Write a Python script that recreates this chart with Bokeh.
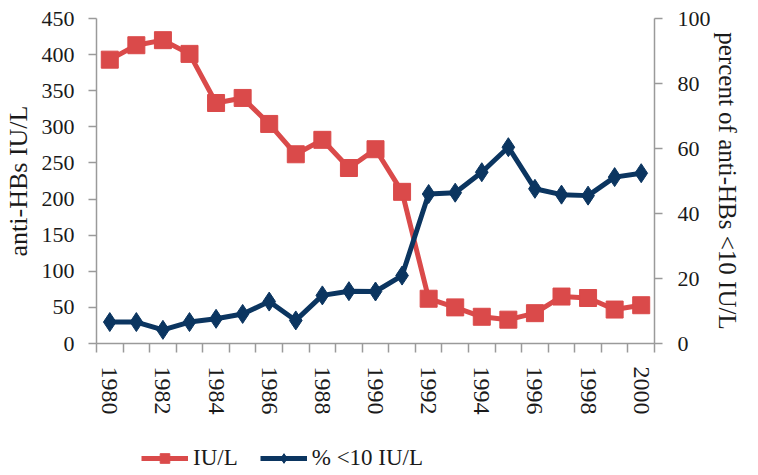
import math
from bokeh.plotting import figure
from bokeh.layouts import column
from bokeh.models import (Range1d, LinearAxis, FixedTicker, Legend, LegendItem,
                          ColumnDataSource)
from bokeh.embed import file_html
from bokeh.resources import INLINE

# ---- data ----
years = list(range(1980, 2001))
iu_per_l = [393, 413, 420, 401, 333, 340, 304, 262, 282, 243, 269,
            210, 62, 50, 37, 33, 42, 65, 63, 47, 53]
pct_below_10 = [6.6, 6.6, 4.2, 6.6, 7.6, 9.1, 12.9, 7.1, 14.8, 16.1, 16.0,
                20.9, 46.0, 46.4, 52.7, 60.4, 47.6, 45.8, 45.5, 51.2, 52.4]
year_labels = [y for y in years if y % 2 == 0]
left_ticks = list(range(0, 451, 50))
right_ticks = list(range(0, 101, 20))
series_names = ["IU/L", "% <10 IU/L"]
left_title = "anti-HBs IU/L"
right_title = "percent of anti-HBs <10 IU/L"

RED = "#DA4A4A"
NAVY = "#0B3560"
AXIS = "#9A9A9A"
FONT = "Liberation Serif"

src = ColumnDataSource(dict(year=years, iu=iu_per_l, pct=pct_below_10))

p = figure(frame_width=558, frame_height=325,
           output_backend="svg", toolbar_location=None,
           x_range=Range1d(years[0] - 0.5, years[-1] + 0.5),
           y_range=Range1d(0, 450),
           min_border_left=89, min_border_right=90, min_border_top=18,
           min_border_bottom=80)
p.extra_y_ranges = {"pct": Range1d(0, 100)}
p.outline_line_color = None
p.xgrid.visible = False
p.ygrid.visible = False
p.background_fill_color = "white"
p.border_fill_color = "white"

# x axis: labels at even-year centres, tick marks between categories
xa = p.xaxis[0]
boundaries = [y - 0.5 for y in years] + [years[-1] + 0.5]
xa.ticker = FixedTicker(ticks=year_labels, minor_ticks=boundaries)
xa.major_tick_out = 0
xa.major_tick_in = 0
xa.minor_tick_out = 9
xa.minor_tick_in = 0
xa.minor_tick_line_color = AXIS
xa.minor_tick_line_width = 1.5
xa.axis_line_color = AXIS
xa.axis_line_width = 1.5
xa.major_label_orientation = "vertical"
xa.major_label_standoff = 14
xa.major_label_text_font = FONT
xa.major_label_text_font_size = "24px"
xa.major_label_text_color = "#1a1a1a"

# left axis
ya = p.yaxis[0]
ya.ticker = FixedTicker(ticks=left_ticks)
ya.major_tick_out = 8
ya.major_tick_in = 0
ya.minor_tick_out = 0
ya.minor_tick_in = 0
ya.major_tick_line_color = AXIS
ya.major_tick_line_width = 1.5
ya.axis_line_color = AXIS
ya.axis_line_width = 1.5
ya.major_label_standoff = 14
ya.major_label_text_font = FONT
ya.major_label_text_font_size = "22px"
ya.major_label_text_color = "#1a1a1a"
ya.axis_label = left_title
ya.axis_label_text_font = FONT
ya.axis_label_text_font_size = "26px"
ya.axis_label_text_font_style = "normal"
ya.axis_label_text_color = "#1a1a1a"
ya.axis_label_standoff = 6

# right axis
ra = LinearAxis(y_range_name="pct", ticker=FixedTicker(ticks=right_ticks))
ra.major_tick_out = 8
ra.major_tick_in = 0
ra.minor_tick_out = 0
ra.minor_tick_in = 0
ra.major_tick_line_color = AXIS
ra.major_tick_line_width = 1.5
ra.axis_line_color = AXIS
ra.axis_line_width = 1.5
ra.major_label_standoff = 15
ra.major_label_text_font = FONT
ra.major_label_text_font_size = "22px"
ra.major_label_text_color = "#1a1a1a"
ra.axis_label = right_title
ra.axis_label_text_font = FONT
ra.axis_label_text_font_size = "25px"
ra.axis_label_text_font_style = "normal"
ra.axis_label_text_color = "#1a1a1a"
ra.axis_label_standoff = 0
p.add_layout(ra, "right")

# series
line_style = [dict(line_color=RED, line_width=5), dict(line_color=NAVY, line_width=5)]
marker_style = [dict(marker="square", size=17, fill_color=RED, line_color=RED),
                dict(marker="diamond", size=19, fill_color=NAVY, line_color=NAVY)]

p.line("year", "iu", source=src, **line_style[0])
p.scatter("year", "iu", source=src, **marker_style[0])
p.line("year", "pct", source=src, y_range_name="pct", **line_style[1])
p.scatter("year", "pct", source=src, y_range_name="pct", **marker_style[1])

# legend strip underneath (same styles as the series; data lies outside
# this strip's ranges, so only the legend swatches show)
lg = figure(frame_width=558, frame_height=48, output_backend="svg",
            toolbar_location=None,
            x_range=Range1d(0, 1), y_range=Range1d(0, 1),
            x_axis_type=None, y_axis_type=None,
            min_border_left=0, min_border_right=0, min_border_top=0,
            min_border_bottom=0)
lg.outline_line_color = None
lg.background_fill_color = "white"
lg.border_fill_color = "white"
items = []
for name, col, ls, ms in zip(series_names, ["iu", "pct"], line_style, marker_style):
    l_r = lg.line("year", col, source=src, **ls)
    s_r = lg.scatter("year", col, source=src, **ms)
    items.append(LegendItem(label=name, renderers=[l_r, s_r]))

legend = Legend(items=items, orientation="horizontal", location=(141, 0))
legend.border_line_color = None
legend.background_fill_alpha = 0
legend.label_text_font = FONT
legend.label_text_font_size = "23px"
legend.label_text_color = "#1a1a1a"
legend.glyph_width = 47
legend.glyph_height = 24
legend.label_standoff = 5
legend.spacing = 22
legend.padding = 0
legend.margin = 0
lg.add_layout(legend, "center")

open("out.html", "w").write(file_html(column(p, lg, spacing=0), INLINE))
